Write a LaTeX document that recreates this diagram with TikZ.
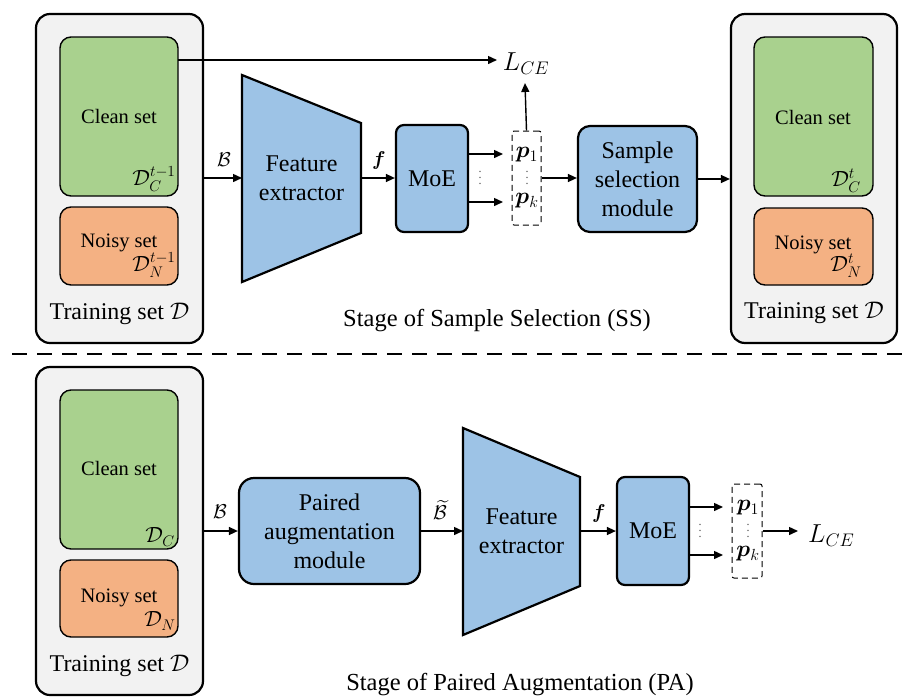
\RequirePackage{fix-cm}
\documentclass[tikz,border=0pt]{standalone}
\usepackage{amsmath}
\usepackage{bm}
\usepackage{fontspec}
\setmainfont{Liberation Serif}
\usetikzlibrary{arrows.meta,calc}
\definecolor{cgreen}{HTML}{A9D18E}
\definecolor{corange}{HTML}{F4B183}
\definecolor{cblue}{HTML}{9DC3E6}
\definecolor{cgray}{HTML}{F2F2F2}
\newcommand{\mydots}{\vbox{\baselineskip6pt\lineskiplimit0pt\lineskip0pt\hbox{.}\hbox{.}\hbox{.}}}
\begin{document}
\begin{tikzpicture}[x=1pt,y=-1pt,
  panel/.style={draw, line width=2.2pt, fill=cgray, rounded corners=14pt, inner sep=0pt},
  cleanbox/.style={draw, line width=1.4pt, fill=cgreen, rounded corners=11pt, inner sep=0pt},
  noisybox/.style={draw, line width=1.4pt, fill=corange, rounded corners=11pt, inner sep=0pt},
  bluebox/.style={draw, line width=2.2pt, fill=cblue, rounded corners=10pt, align=center, font=\fontsize{24}{29}\selectfont, inner sep=0pt},
  trap/.style={draw, line width=2.2pt, fill=cblue, line join=miter},
  bigtxt/.style={align=center, font=\fontsize{24}{29}\selectfont, inner sep=0pt},
  arr/.style={-{Triangle[length=9pt,width=8pt]}, line width=1.4pt},
  pbox/.style={draw, line width=1pt, dash pattern=on 6pt off 4pt, rounded corners=2pt, inner sep=0pt},
  setlbl/.style={font=\fontsize{20.5}{22}\selectfont},
  mlbl/.style={font=\fontsize{22}{24}\selectfont, inner sep=0pt},
  blbl/.style={font=\fontsize{20}{22}\selectfont, inner sep=0pt},
  tslbl/.style={font=\fontsize{24}{26}\selectfont},
  stagelbl/.style={font=\fontsize{24.5}{27}\selectfont},
  lcelbl/.style={font=\fontsize{26}{28}\selectfont, inner sep=0pt},
  plbl/.style={font=\fontsize{23}{24}\selectfont, inner sep=0pt},
  dotlbl/.style={font=\fontsize{12}{12}\selectfont, text=black!70, inner sep=0pt}
]
\useasboundingbox (0,0) rectangle (911,697);

% ================= TOP STAGE =================
% left training set
\node[panel, minimum width=167pt, minimum height=329pt] (ts1) at (119.5,178.5) {};
\node[cleanbox, minimum width=118pt, minimum height=159pt] (c1) at (119,116.5) {};
\node[noisybox, minimum width=118pt, minimum height=78pt] (n1) at (119,246) {};
\node[setlbl] (c1t) at (119,116) {Clean set};
\node[mlbl] (c1m) at (154,179) {$\mathcal{D}_C^{t-1}$};
\node[setlbl] (n1t) at (119,243) {Noisy set};
\node[mlbl] (n1m) at (154,265) {$\mathcal{D}_N^{t-1}$};
\node[tslbl] (ts1t) at (119.5,314) {Training set $\mathcal{D}$};

% feature extractor
\draw[trap] (242,75) -- (361,123) -- (361,233) -- (242,282) -- cycle;
\node[bigtxt] (fe1) at (301.5,178) {Feature\\extractor};
\coordinate (fe1w) at (242,178);
\coordinate (fe1e) at (361,178);

% MoE
\node[bluebox, rounded corners=8pt, minimum width=72pt, minimum height=107pt] (moe1) at (432,178.5) {MoE};

% p box
\node[pbox, minimum width=29pt, minimum height=94pt] (pb1) at (526.5,178) {};
\node[plbl] (p11) at (527,155) {$\bm{p}_1$};
\node[dotlbl] (p1d) at (527,178) {\mydots};
\node[plbl] (p1k) at (527,201) {$\bm{p}_k$};
\node[dotlbl] (m1d) at (480,178) {\mydots};
\coordinate (t11) at (503,154);
\coordinate (t1k) at (503,202);

% sample selection module
\node[bluebox, rounded corners=12pt, minimum width=119pt, minimum height=106pt] (ssm) at (637.5,179) {Sample\\selection\\module};

% right training set
\node[panel, minimum width=166pt, minimum height=329pt] (ts2) at (814,178.5) {};
\node[cleanbox, minimum width=119pt, minimum height=159pt] (c2) at (813.5,116.5) {};
\node[noisybox, minimum width=119pt, minimum height=77pt] (n2) at (813.5,246.5) {};
\node[setlbl] (c2t) at (813,117) {Clean set};
\node[mlbl] (c2m) at (846,181) {$\mathcal{D}_C^{t}$};
\node[setlbl] (n2t) at (813,245) {Noisy set};
\node[mlbl] (n2m) at (846,266) {$\mathcal{D}_N^{t}$};
\node[tslbl] (ts2t) at (814,313) {Training set $\mathcal{D}$};

% L_CE
\node[lcelbl] (lce1) at (526,64) {$L_{CE}$};
\coordinate (c1o) at (178,60);
\coordinate (lce1in) at (497,60);
\coordinate (up1) at (525,83);

% stage label
\node[stagelbl] (st1) at (497,321) {Stage of Sample Selection (SS)};

% connectors top
\draw[arr] (c1o) -- (lce1in);
\draw[arr] (ts1.east |- fe1w) -- (fe1w);
\node[blbl] (b1) at (224,160) {$\mathcal{B}$};
\draw[arr] (fe1e) -- (moe1.west |- fe1e);
\node[blbl] (f1) at (379,160) {$\bm{f}$};
\draw[arr] (moe1.east |- t11) -- (t11);
\draw[arr] (moe1.east |- t1k) -- (t1k);
\draw[arr] (pb1.north) -- (up1);
\draw[arr] (pb1.east) -- (ssm.west |- pb1.east);
\draw[arr] (ssm.east) -- (ts2.west |- ssm.east);

% separator
\coordinate (sepl) at (12,354);
\coordinate (sepr) at (911,354);
\draw[line width=1.6pt, dash pattern=on 15pt off 10pt] (sepl) -- (sepr);

% ================= BOTTOM STAGE =================
\node[panel, minimum width=167pt, minimum height=328pt] (ts3) at (119.5,531) {};
\node[cleanbox, minimum width=118pt, minimum height=159pt] (c3) at (119,469.5) {};
\node[noisybox, minimum width=118pt, minimum height=77pt] (n3) at (119,598.5) {};
\node[setlbl] (c3t) at (119,468) {Clean set};
\node[mlbl] (c3m) at (160,537) {$\mathcal{D}_C$};
\node[setlbl] (n3t) at (119,598) {Noisy set};
\node[mlbl] (n3m) at (160,621) {$\mathcal{D}_N$};
\node[tslbl] (ts3t) at (119.5,666) {Training set $\mathcal{D}$};

% paired augmentation module
\node[bluebox, rounded corners=15pt, minimum width=181pt, minimum height=106pt] (pam) at (329.5,531) {Paired\\augmentation\\module};

% feature extractor 2
\draw[trap] (463,428) -- (580,477) -- (580,586) -- (463,635) -- cycle;
\node[bigtxt] (fe2) at (521.5,531) {Feature\\extractor};
\coordinate (fe2w) at (463,531);
\coordinate (fe2e) at (580,531);

% MoE 2
\node[bluebox, rounded corners=8pt, minimum width=72pt, minimum height=108pt] (moe2) at (653,531) {MoE};

% p box 2
\node[pbox, minimum width=30pt, minimum height=94pt] (pb2) at (747,531) {};
\node[plbl] (p21) at (748,508) {$\bm{p}_1$};
\node[dotlbl] (p2d) at (748,531) {\mydots};
\node[plbl] (p2k) at (748,554) {$\bm{p}_k$};
\node[dotlbl] (m2d) at (700,531) {\mydots};
\coordinate (t21) at (723,507);
\coordinate (t2k) at (723,555);

% L_CE 2
\node[lcelbl, anchor=west] (lce2) at (808,536) {$L_{CE}$};
\coordinate (lce2in) at (798,531);

% stage label 2
\node[stagelbl] (st2) at (520,685) {Stage of Paired Augmentation (PA)};

% connectors bottom
\draw[arr] (ts3.east |- pam.west) -- (pam.west);
\node[blbl] (b3) at (220,512) {$\mathcal{B}$};
\draw[arr] (pam.east) -- (fe2w);
\node[blbl] (b3t) at (440,510) {$\widetilde{\mathcal{B}}$};
\draw[arr] (fe2e) -- (moe2.west);
\node[blbl] (f2) at (599,513) {$\bm{f}$};
\draw[arr] (moe2.east |- t21) -- (t21);
\draw[arr] (moe2.east |- t2k) -- (t2k);
\draw[arr] (pb2.east) -- (lce2in);
\end{tikzpicture}
\end{document}
